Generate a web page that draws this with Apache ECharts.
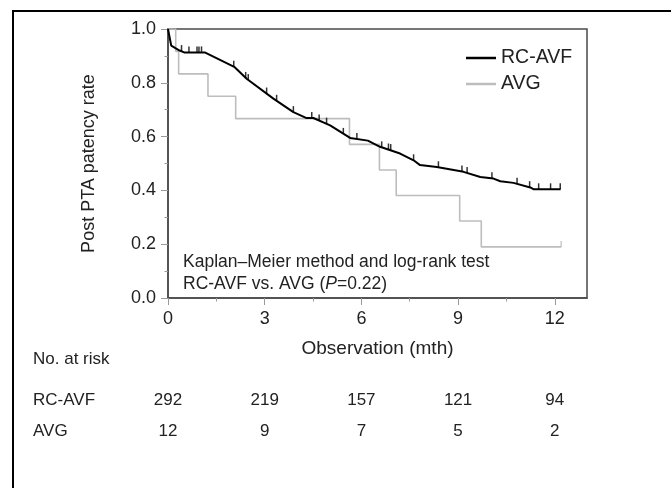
<!DOCTYPE html>
<html>
<head>
<meta charset="utf-8">
<script src="https://cdn.jsdelivr.net/npm/echarts@6/dist/echarts.min.js"></script>
<style>
html,body{margin:0;padding:0;background:#fff;}
#frame{position:absolute;left:12px;top:10px;width:659px;height:478px;border-left:2px solid #000;border-top:2px solid #000;}
#main{position:absolute;left:0;top:0;width:671px;height:488px;}
</style>
</head>
<body>
<div id="frame"></div>
<div id="main"></div>
<script>
// RC-AVF curve (months, survival)
var rcTime = [0, 0.1, 0.36, 0.5, 1.14, 2.07, 2.44, 3.27, 3.89, 4.3, 4.51, 5.03, 5.65, 6.2, 6.58, 7.2, 7.62, 7.82, 8.34, 9.17, 9.69, 10.1, 10.31, 10.72, 11.24, 11.35, 12.18];
var rcSurv = [1.0, 0.938, 0.92, 0.913, 0.913, 0.858, 0.815, 0.741, 0.691, 0.669, 0.669, 0.642, 0.595, 0.585, 0.562, 0.537, 0.512, 0.494, 0.487, 0.469, 0.45, 0.444, 0.434, 0.428, 0.411, 0.404, 0.404];
// censored RC-AVF
var rcCensorTime = [0.42, 0.65, 0.9, 0.96, 1.04, 2.04, 2.41, 2.49, 3.06, 3.37, 3.89, 4.46, 4.69, 4.92, 5.44, 5.86, 6.63, 6.84, 6.91, 7.62, 8.39, 9.12, 9.28, 10.05, 10.83, 11.22, 11.5, 11.87, 12.17];
var rcCensorSurv = [0.918, 0.913, 0.913, 0.913, 0.913, 0.86, 0.818, 0.81, 0.76, 0.733, 0.691, 0.669, 0.66, 0.648, 0.61, 0.591, 0.56, 0.552, 0.55, 0.512, 0.486, 0.47, 0.465, 0.445, 0.425, 0.412, 0.404, 0.404, 0.404];
// AVG step curve
var avgTime = [0, 0.24, 0.33, 1.24, 2.1, 5.63, 6.56, 7.08, 9.05, 9.72, 12.2];
var avgSurv = [1.0, 0.917, 0.833, 0.75, 0.667, 0.571, 0.476, 0.381, 0.286, 0.19, 0.19];
var avgCensorTime = [12.2];
var avgCensorSurv = [0.19];

// number at risk table
var riskTimes = [0, 3, 6, 9, 12];
var riskRC = [292, 219, 157, 121, 94];
var riskAVG = [12, 9, 7, 5, 2];

var xLabels = [0, 3, 6, 9, 12];
var xMinor = [1.5, 4.5, 7.5, 10.5];

function zip(a, b) {
    var out = [];
    for (var i = 0; i < a.length; i++) out.push([a[i], b[i]]);
    return out;
}

var font = 'Liberation Sans, Arial, sans-serif';
var myChart = echarts.init(document.getElementById('main'));

var option = {
    animation: false,
    textStyle: { fontFamily: font },
    grid: { left: 168, top: 29, right: 84, bottom: 190, show: true, borderColor: '#4a4a4a', borderWidth: 1.5, backgroundColor: 'transparent' },
    legend: {
        data: [{ name: 'RC-AVF', icon: 'rect' }, { name: 'AVG', icon: 'rect' }],
        orient: 'vertical',
        left: 461,
        top: 43,
        itemWidth: 30,
        itemHeight: 2.5,
        itemGap: 6,
        textStyle: { fontFamily: font, fontSize: 19.5, color: '#222', lineHeight: 20 }
    },
    xAxis: [{
        type: 'value',
        min: 0,
        max: 13,
        interval: 3,
        name: 'Observation (mth)',
        nameLocation: 'middle',
        nameGap: 41,
        nameTextStyle: { fontFamily: font, fontSize: 19, color: '#222' },
        axisLine: { lineStyle: { color: '#4a4a4a', width: 1.5 } },
        axisTick: { length: 7, customValues: xLabels, lineStyle: { color: '#999' } },
        axisLabel: { customValues: xLabels, fontSize: 18, color: '#222', margin: 12 },
        splitLine: { show: false }
    }, {
        type: 'value',
        position: 'bottom',
        min: 0,
        max: 13,
        axisLine: { show: false },
        axisTick: { length: 3.5, customValues: xMinor, lineStyle: { color: '#999' } },
        axisLabel: { show: false },
        splitLine: { show: false }
    }],
    yAxis: {
        type: 'value',
        min: 0,
        max: 1,
        interval: 0.2,
        name: 'Post PTA patency rate',
        nameLocation: 'middle',
        nameGap: 70,
        nameTextStyle: { fontFamily: font, fontSize: 18, color: '#222' },
        axisLine: { show: true, lineStyle: { color: '#4a4a4a', width: 1.5 } },
        axisTick: { show: true, length: 7, lineStyle: { color: '#999' } },
        minorTick: { show: true, splitNumber: 2, length: 3.5, lineStyle: { color: '#999' } },
        axisLabel: { fontSize: 18, color: '#222', margin: 12, formatter: function (v) { return v.toFixed(1); } },
        splitLine: { show: false }
    },
    series: [{
        name: 'AVG',
        type: 'line',
        step: 'end',
        data: zip(avgTime, avgSurv),
        symbol: 'none',
        lineStyle: { color: '#bdbdbd', width: 1.6 },
        itemStyle: { color: '#bdbdbd' },
        z: 2
    }, {
        name: 'RC-AVF',
        type: 'line',
        data: zip(rcTime, rcSurv),
        symbol: 'none',
        lineStyle: { color: '#000', width: 2 },
        itemStyle: { color: '#000' },
        z: 3
    }, {
        name: 'rc-censor',
        type: 'scatter',
        data: zip(rcCensorTime, rcCensorSurv),
        symbol: 'rect',
        symbolSize: [1.5, 6],
        symbolOffset: [0, -3],
        itemStyle: { color: '#000' },
        silent: true,
        z: 4
    }, {
        name: 'avg-censor',
        type: 'scatter',
        data: zip(avgCensorTime, avgCensorSurv),
        symbol: 'rect',
        symbolSize: [1.5, 6],
        symbolOffset: [0, -3],
        itemStyle: { color: '#bdbdbd' },
        silent: true,
        z: 2
    }]
};
myChart.setOption(option);

// annotation + number at risk table, x positions from the axis scale
var tableFont = '17px ' + font;
var graphics = [{
    type: 'text',
    left: 183,
    top: 251,
    style: {
        text: 'Kaplan\u2013Meier method and log-rank test\nRC-AVF vs. AVG ({i|P}=0.22)',
        font: '17.5px ' + font,
        fill: '#222',
        lineHeight: 22,
        rich: { i: { fontStyle: 'italic', fontSize: 17.5, fontFamily: font, fill: '#222' } }
    }
}, {
    type: 'text', x: 33, y: 359.5,
    style: { text: 'No. at risk', font: tableFont, fill: '#222', verticalAlign: 'middle' }
}, {
    type: 'text', x: 33, y: 400,
    style: { text: 'RC-AVF', font: tableFont, fill: '#222', verticalAlign: 'middle' }
}, {
    type: 'text', x: 33, y: 431.5,
    style: { text: 'AVG', font: tableFont, fill: '#222', verticalAlign: 'middle' }
}];
for (var i = 0; i < riskTimes.length; i++) {
    var px = myChart.convertToPixel({ xAxisIndex: 0 }, riskTimes[i]);
    graphics.push({
        type: 'text', x: px, y: 400,
        style: { text: String(riskRC[i]), font: tableFont, fill: '#222', align: 'center', verticalAlign: 'middle' }
    });
    graphics.push({
        type: 'text', x: px, y: 431.5,
        style: { text: String(riskAVG[i]), font: tableFont, fill: '#222', align: 'center', verticalAlign: 'middle' }
    });
}
myChart.setOption({ graphic: graphics });
</script>
</body>
</html>
